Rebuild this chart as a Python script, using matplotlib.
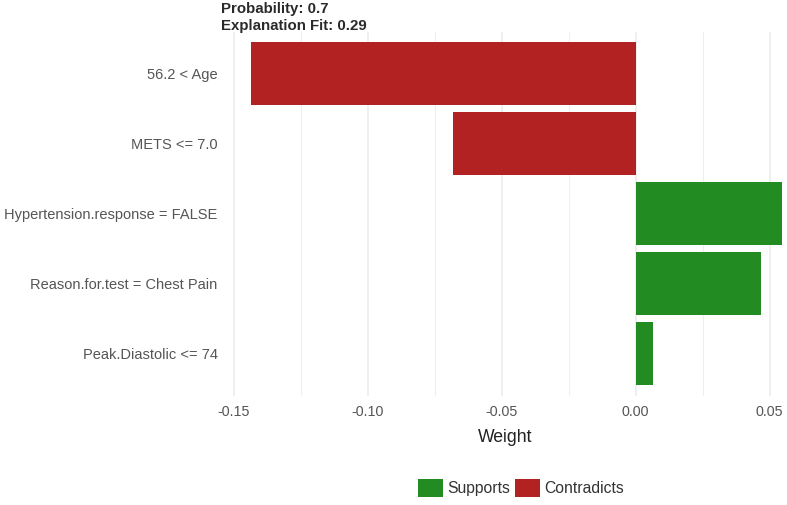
import matplotlib
matplotlib.use("Agg")
import matplotlib.pyplot as plt
from matplotlib.patches import Patch
from matplotlib.ticker import FixedLocator

plt.rcParams['font.family'] = ['Liberation Sans', 'DejaVu Sans']

features = ["56.2 < Age", "METS <= 7.0", "Hypertension.response = FALSE",
            "Reason.for.test = Chest Pain", "Peak.Diastolic <= 74"]
weights = [-0.1437, -0.0682, 0.0547, 0.0466, 0.0065]
major_ticks = [-0.15, -0.10, -0.05, 0.00, 0.05]
minor_ticks = [-0.125, -0.075, -0.025, 0.025]
tick_labels = ["-0.15", "-0.10", "-0.05", "0.00", "0.05"]
title_lines = ["Probability: 0.7", "Explanation Fit: 0.29"]
legend_labels = ["Supports", "Contradicts"]

GREEN = "#228B22"
RED = "#B22222"

W, H = 787, 505
fig = plt.figure(figsize=(W / 100, H / 100), dpi=100)

px_left, px_right, px_top, px_bottom = 224, 787, 31.5, 395.5
ax = fig.add_axes([px_left / W, 1 - px_bottom / H,
                   (px_right - px_left) / W, (px_bottom - px_top) / H])

n = len(features)
ypos = list(range(n - 1, -1, -1))  # top feature at top
colors = [GREEN if w > 0 else RED for w in weights]
ax.barh(ypos, weights, height=0.9, color=colors, edgecolor="none", zorder=3)

# ggplot-like expansion
rng = max(weights) - min(weights)
xmin = min(weights) - 0.05 * rng
px_per_unit = 2680
xmax = xmin + (px_right - px_left) / px_per_unit
ax.set_xlim(xmin, xmax)
ax.set_ylim(-0.6, n - 1 + 0.6)

ax.xaxis.set_major_locator(FixedLocator(major_ticks))
ax.xaxis.set_minor_locator(FixedLocator(minor_ticks))
ax.set_xticklabels(tick_labels)
ax.set_yticks(ypos)
ax.set_yticklabels(features)

ax.grid(axis="x", which="major", color="#EBEBEB", linewidth=1.1, zorder=0)
ax.grid(axis="x", which="minor", color="#EFEFEF", linewidth=0.8, zorder=0)
ax.grid(axis="y", visible=False)
for s in ax.spines.values():
    s.set_visible(False)
ax.tick_params(axis="both", which="both", length=0)
ax.tick_params(axis="x", pad=7, labelsize=10.3, labelcolor="#555555")
ax.tick_params(axis="y", pad=4.5, labelsize=10.5, labelcolor="#555555")

ax.set_xlabel("Weight", fontsize=12.7, color="#222222", labelpad=7)

fig.text(221 / W, 1 - 2.0 / H, "\n".join(title_lines), ha="left", va="top",
         fontsize=10.8, fontweight="bold", color="#2A2A2A", linespacing=1.28)

handles = [Patch(facecolor=GREEN, edgecolor="none"),
           Patch(facecolor=RED, edgecolor="none")]
fig.legend(handles, legend_labels, loc="center", bbox_to_anchor=(521 / W, 1 - 488 / H),
           ncol=2, frameon=False, fontsize=11.3, handlelength=1.6, handleheight=1.45,
           handletextpad=0.3, columnspacing=0.25, labelcolor="#333333")

fig.savefig("out.png", dpi=100)
